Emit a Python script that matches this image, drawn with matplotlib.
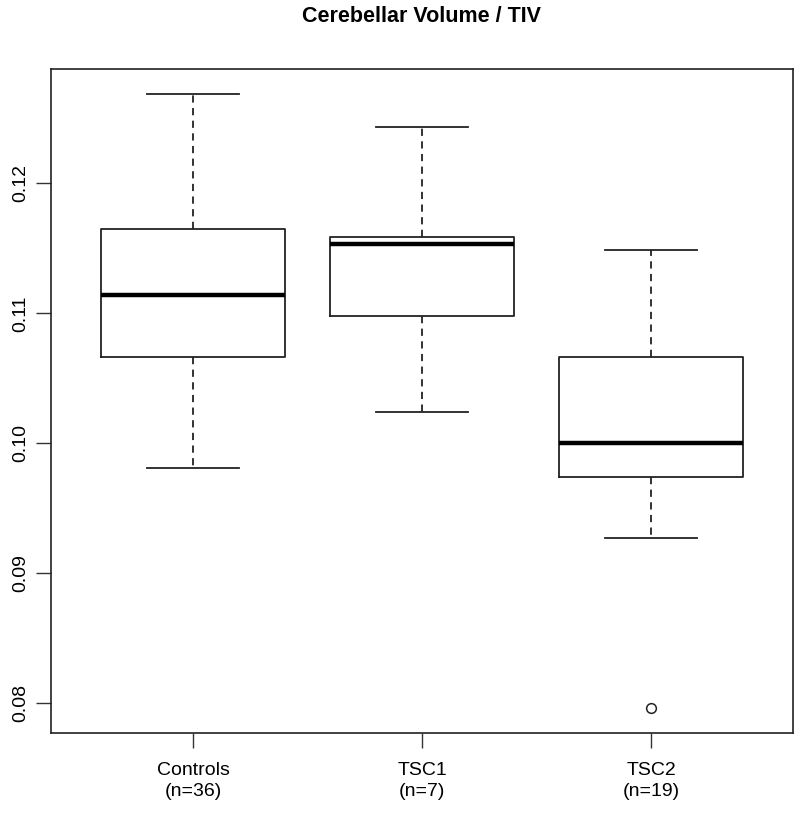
import matplotlib.pyplot as plt

plt.rcParams['font.family'] = ['Liberation Sans', 'DejaVu Sans']

# values
groups = ["Controls", "TSC1", "TSC2"]
group_n = [36, 7, 19]
whisker_low = [0.0981, 0.1024, 0.0927]
q1 = [0.1066, 0.1098, 0.0974]
median = [0.1114, 0.1153, 0.1000]
q3 = [0.1165, 0.1159, 0.1066]
whisker_high = [0.1269, 0.1243, 0.1149]
outliers = [[], [], [0.0796]]

yticks = [0.08, 0.09, 0.10, 0.11, 0.12]

stats = []
for i, g in enumerate(groups):
    stats.append({
        "label": f"{g}\n(n={group_n[i]})",
        "whislo": whisker_low[i], "q1": q1[i], "med": median[i],
        "q3": q3[i], "whishi": whisker_high[i], "fliers": outliers[i],
    })

fig = plt.figure(figsize=(8, 8.14), dpi=100)
ax = fig.add_axes([51 / 800, 1 - 733 / 814, (793 - 51) / 800, (733 - 69) / 814])

ax.bxp(stats, positions=[1, 2, 3], widths=0.8, showfliers=True,
       boxprops=dict(color="#222222", linewidth=1.3),
       medianprops=dict(color="black", linewidth=3.2, solid_capstyle="butt"),
       whiskerprops=dict(color="#222222", linewidth=1.3, linestyle=(0, (4, 3))),
       capprops=dict(color="#222222", linewidth=1.3),
       capwidths=0.4,
       flierprops=dict(marker="o", markersize=7, markerfacecolor="white",
                       markeredgecolor="#222222", markeredgewidth=1.1))

# R style axis limits: data range extended 4%
lo = min(min(whisker_low), min(min(o) for o in outliers if o))
hi = max(whisker_high)
pad = (hi - lo) * 0.04
ax.set_ylim(lo - pad, hi + pad)
ax.set_xlim(0.5 - 3 * 0.04, 3.5 + 3 * 0.04)

ax.set_yticks(yticks)
ax.set_yticklabels([f"{t:.2f}" for t in yticks], rotation=90, va="center", fontsize=14)
ax.tick_params(axis="y", length=11, width=1, pad=5, color="#333333")
ax.tick_params(axis="x", length=11, width=1, pad=10, labelsize=14, color="#333333")
for lab in ax.get_xticklabels():
    lab.set_linespacing(1.3)
for s in ax.spines.values():
    s.set_linewidth(1.2)
    s.set_color("#222222")

fig.text((51 + 793) / 2 / 800, 1 - 16 / 814, "Cerebellar Volume / TIV",
         ha="center", va="center", fontsize=15.5, fontweight="bold")

fig.savefig("out.png", dpi=100)
